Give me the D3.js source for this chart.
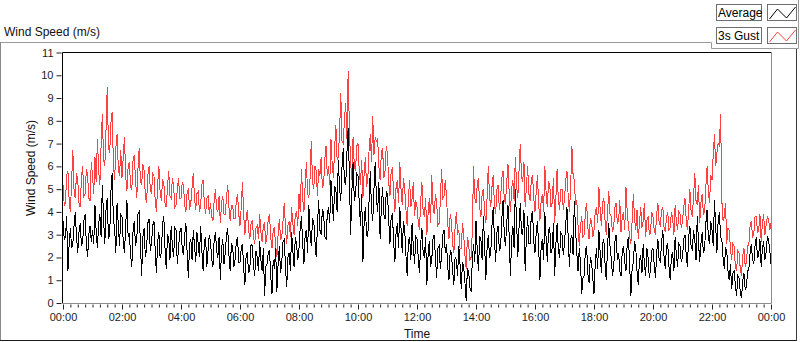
<!DOCTYPE html>
<html>
<head>
<meta charset="utf-8">
<script src="https://cdn.jsdelivr.net/npm/d3@7"></script>
<style>
body { margin: 0; background: #fff; }
svg { display: block; font-family: "Liberation Sans", Arial, sans-serif; }
.axis text { fill: #1c1c24; font-size: 11px; }
.axis line { stroke: #222; }
</style>
</head>
<body>
<div id="chart"></div>
<script>
var w = 800, h = 342;
var plot = { left: 63, right: 771, top: 52.5, bottom: 303 };

var yTicks = [0, 1, 2, 3, 4, 5, 6, 7, 8, 9, 10, 11];
var xTickHours = [0, 2, 4, 6, 8, 10, 12, 14, 16, 18, 20, 22, 24];
var xTickLabels = ["00:00", "02:00", "04:00", "06:00", "08:00", "10:00", "12:00",
                   "14:00", "16:00", "18:00", "20:00", "22:00", "00:00"];
var seriesNames = ["Average", "3s Gust"];
var seriesColors = ["#000000", "#ff4040"];
var sampleMinutes = 2.5;

// one row per hour, 2.5 minute samples (m/s)
var average = [
  3.6,2.8,2.9,3.8,1.4,2.6,3.3,2.4,2.6,3.4,4.0,2.9,2.2,3.1,3.5,2.5,2.7,3.6,3.9,2.6,2.0,3.0,3.4,2.7,
  3.2,2.6,4.3,3.1,2.4,3.5,3.9,2.9,5.2,3.7,2.6,4.1,4.6,2.8,3.0,4.9,5.7,3.6,3.3,2.2,4.4,3.4,2.5,3.9,
  3.8,2.7,2.2,3.4,4.5,2.9,3.0,2.1,1.6,3.2,3.6,2.5,2.8,3.9,4.0,2.6,1.2,2.9,3.3,2.0,2.4,3.5,3.7,2.3,
  2.6,3.4,3.6,2.3,1.3,2.7,3.1,2.0,2.2,3.5,3.8,2.4,1.5,3.0,2.9,1.9,3.4,2.5,2.0,3.3,3.2,1.7,2.4,3.1,
  3.3,2.4,2.1,3.0,3.5,2.2,1.1,2.6,2.8,1.9,3.2,2.5,1.8,3.1,2.6,2.0,3.4,2.3,1.4,2.7,2.9,1.6,2.3,3.0,
  2.7,1.9,1.6,2.8,3.1,2.3,2.0,2.9,1.0,2.4,2.8,1.7,2.2,3.0,3.3,2.1,1.4,2.6,2.5,1.6,1.9,2.7,2.9,1.8,
  1.8,2.4,2.6,1.5,0.8,2.1,2.2,1.3,1.5,2.6,2.5,1.6,1.2,2.3,2.0,1.4,2.7,1.9,1.4,2.4,0.3,1.6,1.7,2.2,
  2.3,1.2,0.4,1.9,1.5,2.4,0.5,1.7,2.5,1.3,1.8,2.7,2.8,1.6,0.7,2.0,2.2,1.4,3.1,2.3,1.6,2.9,2.6,1.9,
  2.4,3.3,3.8,2.6,1.7,3.0,3.2,2.2,4.3,3.1,2.5,3.7,3.6,2.7,2.0,3.4,4.5,3.2,3.0,4.1,4.0,2.9,2.8,3.9,
  4.2,3.5,5.4,4.6,3.6,5.1,5.0,4.0,6.3,5.0,4.5,6.0,6.8,5.3,5.2,6.6,7.7,5.6,3.0,4.9,6.2,4.5,4.8,5.7,
  5.6,4.4,3.4,4.8,1.8,3.6,4.2,3.0,2.9,4.5,5.8,4.1,3.6,5.0,6.2,4.6,4.0,5.3,2.8,4.2,5.1,3.9,3.7,4.9,
  4.8,3.6,2.6,3.8,3.9,2.7,1.8,3.1,3.5,2.4,4.2,3.3,2.2,3.6,3.2,2.1,1.2,2.7,2.9,1.9,3.5,2.5,1.7,2.9,
  2.8,2.0,1.3,2.6,3.3,2.2,2.0,2.9,0.8,2.1,2.7,1.6,1.9,2.8,3.0,2.0,1.1,2.4,2.5,1.5,2.1,3.0,3.2,2.2,
  2.6,1.6,1.0,2.3,2.2,1.4,0.8,2.0,1.9,1.2,2.5,1.7,0.6,1.8,1.6,0.9,0.1,1.5,1.4,0.7,0.5,1.9,2.6,1.8,
  3.6,2.3,1.4,2.9,2.8,1.9,3.8,2.6,1.0,2.4,3.0,2.0,2.2,3.4,4.2,2.8,1.8,3.1,3.4,2.3,2.4,3.7,4.5,3.0,
  2.5,3.5,4.3,2.9,1.2,2.8,3.4,2.4,5.0,3.6,2.0,3.3,4.4,3.1,3.0,4.1,1.4,2.9,3.8,2.6,2.6,3.9,4.0,2.7,
  2.2,3.1,3.6,2.4,1.0,2.5,2.8,1.9,4.0,2.9,1.8,3.2,3.3,2.2,2.4,3.5,1.2,2.6,3.5,2.3,2.0,3.1,3.0,2.1,
  2.6,3.5,4.2,2.9,1.6,2.8,3.0,2.1,4.5,3.2,2.2,1.4,2.4,1.8,0.4,1.1,1.2,2.3,2.5,1.3,0.9,2.0,1.8,1.1,
  0.4,1.7,2.4,1.5,3.2,2.2,1.3,2.6,2.8,1.7,1.0,2.4,3.5,2.5,2.0,1.2,1.5,2.7,3.0,1.9,2.2,1.4,1.2,2.3,
  2.5,1.8,1.4,2.6,2.9,1.7,0.3,1.5,1.8,2.7,2.4,1.4,0.8,1.9,2.1,1.3,2.6,1.7,1.2,2.4,2.0,1.1,1.5,2.3,
  2.4,1.7,1.1,2.2,2.8,1.9,1.8,2.7,3.2,2.0,1.5,2.5,2.6,1.6,1.0,2.1,2.2,1.4,2.9,2.1,1.6,2.6,2.5,1.8,
  2.0,2.8,3.0,2.1,1.6,2.9,3.4,2.5,2.3,3.2,2.8,1.9,3.8,2.7,1.8,2.6,3.1,2.2,2.4,3.5,4.1,2.9,2.6,3.6,
  3.2,2.5,4.5,3.4,2.2,3.6,4.0,2.9,2.8,2.0,1.5,2.4,2.3,1.4,1.0,1.7,0.6,1.3,1.4,0.8,0.3,1.2,1.1,0.5,
  0.2,1.0,1.3,0.6,0.7,1.4,1.5,2.2,2.6,1.9,1.7,2.5,2.9,2.0,2.1,2.8,1.6,2.4,2.7,1.9,2.2,2.9,2.8,2.3,
  1.7
];
var gust = [
  5.2,4.3,4.4,5.6,5.8,4.5,4.0,5.3,6.7,4.9,4.6,5.7,5.4,4.4,4.2,5.5,6.0,4.7,4.8,5.9,5.6,4.6,4.5,6.2,
  5.6,4.8,6.4,5.3,7.2,5.8,5.2,6.9,8.3,6.3,6.0,7.6,9.5,6.8,6.6,7.9,8.4,6.1,5.4,6.8,7.4,5.9,5.6,6.7,
  5.5,6.4,7.3,5.6,4.9,6.0,6.2,5.1,5.0,6.3,6.5,5.4,4.6,5.9,6.8,5.3,5.2,6.1,5.8,4.7,4.4,5.6,6.0,5.0,
  4.8,5.7,5.6,4.5,4.0,5.2,6.0,4.9,4.5,5.4,5.3,4.4,4.2,5.1,5.8,4.7,4.6,5.5,5.1,4.2,4.3,5.0,5.5,4.6,
  4.6,5.3,5.2,4.3,4.0,4.9,5.0,4.1,4.4,5.1,5.7,4.6,4.1,4.8,4.9,4.0,4.3,5.2,5.4,4.4,3.9,4.6,4.7,3.9,
  4.4,3.8,3.6,4.5,5.0,4.1,4.0,4.7,3.5,4.4,4.7,3.9,3.9,4.6,5.2,4.2,3.6,4.3,4.3,3.7,3.7,4.5,4.8,3.9,
  3.4,4.2,5.3,3.9,3.0,3.7,4.1,3.2,2.8,3.5,3.6,2.9,2.6,3.3,3.4,2.8,3.9,3.1,2.7,3.4,3.5,2.6,3.0,3.7,
  3.9,2.9,2.4,3.2,3.3,2.5,2.0,3.0,3.7,2.8,2.9,3.6,4.4,3.3,2.6,3.4,3.6,2.9,4.2,3.5,3.0,3.9,4.0,3.4,
  4.8,4.0,5.9,4.6,4.0,5.2,6.2,4.8,4.6,5.5,7.1,5.3,5.0,6.0,5.8,4.7,5.9,5.6,6.4,5.1,5.2,6.3,6.9,5.6,
  6.0,5.2,7.2,6.1,5.5,6.8,7.8,6.3,6.4,7.5,9.2,7.1,7.0,8.1,8.8,7.2,10.2,7.6,6.2,5.4,7.3,6.0,5.8,6.9,
  7.0,5.8,5.2,6.3,4.6,5.7,6.4,5.1,5.5,6.7,7.4,6.2,8.2,6.5,7.3,7.1,7.2,6.0,5.4,6.6,6.8,5.5,5.8,6.9,
  6.5,5.3,4.7,5.8,5.9,4.8,4.0,5.1,5.4,4.4,6.2,5.0,4.3,5.5,5.0,4.1,3.4,4.6,5.4,4.2,4.6,5.3,3.8,4.5,
  4.2,3.6,3.2,4.5,5.3,4.0,3.8,4.6,3.0,3.9,4.6,3.5,5.6,4.3,3.9,4.8,4.4,3.4,3.5,4.5,5.9,4.6,4.7,5.4,
  4.7,3.5,2.8,3.9,3.6,2.6,2.2,3.3,4.0,3.0,3.2,2.4,2.4,3.5,3.0,2.1,1.5,2.9,2.6,1.9,2.0,3.1,6.0,4.6,
  4.4,5.2,5.5,4.2,3.8,4.8,5.0,4.0,3.5,4.6,6.0,4.7,4.2,5.1,5.6,4.3,3.9,5.0,5.2,4.1,4.6,5.5,5.8,4.5,
  4.4,5.3,6.1,4.8,4.0,5.0,5.4,4.5,6.4,5.2,4.6,5.8,7.0,5.6,5.3,6.2,4.2,5.1,6.0,4.8,4.5,5.4,5.6,4.6,
  4.0,4.9,5.6,4.3,3.6,4.5,4.8,4.0,6.0,4.9,4.2,5.3,5.2,4.2,4.4,5.5,3.5,4.6,5.9,4.5,4.1,5.0,5.0,4.1,
  4.6,5.4,5.8,4.7,4.0,5.1,6.9,5.6,5.4,4.3,4.5,3.4,2.5,3.4,3.8,2.9,3.0,4.0,4.4,3.3,2.8,3.7,3.6,2.9,
  3.2,4.0,4.2,3.5,5.1,4.1,3.4,4.4,4.6,3.6,3.0,4.0,4.9,3.9,3.8,3.1,3.3,4.2,4.4,3.5,3.6,4.5,3.1,3.8,
  4.0,3.2,5.1,4.0,3.4,2.9,2.6,3.6,4.8,3.7,3.2,4.1,2.8,3.5,4.2,3.3,3.6,4.4,2.9,3.6,3.8,3.0,3.1,4.0,
  3.8,3.2,3.0,3.9,4.4,3.5,3.4,4.1,4.2,3.3,3.1,3.8,4.0,3.2,3.3,4.0,3.7,3.0,4.3,3.6,3.2,4.0,3.9,3.3,
  3.6,4.2,4.6,3.7,3.2,4.1,5.0,4.0,3.8,4.7,5.7,4.5,4.3,5.2,3.5,4.4,4.8,3.9,4.0,5.1,6.0,4.9,4.4,5.6,
  5.4,6.5,7.4,6.0,6.6,7.0,6.9,8.3,4.5,3.6,3.8,4.4,2.6,3.3,3.2,2.4,1.9,2.6,2.5,1.6,1.4,2.3,2.2,1.5,
  1.2,2.1,2.4,1.6,1.8,2.5,2.6,3.4,3.6,2.9,3.0,3.8,3.8,3.1,3.2,3.9,2.7,3.5,3.9,3.0,3.4,3.8,3.7,3.2,
  3.5
];

var svg = d3.select("#chart")
    .append("svg")
    .attr("width", w)
    .attr("height", h);

// outer frame of the chart control
var frame = svg.append("g").attr("fill", "none");
frame.append("path").attr("d", "M0,42.5H711.5V48.5H798.5V0").attr("stroke", "#9a9a9a");
frame.append("path").attr("d", "M0.5,42V340.5H796.5V49").attr("stroke", "#8a8a8a");
frame.append("path").attr("d", "M0,340.5H797").attr("stroke", "#1a1a1a");
frame.append("path").attr("d", "M796.5,49V341").attr("stroke", "#3a3a3a");

svg.append("text")
    .attr("x", 4)
    .attr("y", 35.5)
    .style("font-size", "12px")
    .attr("fill", "#111")
    .text("Wind Speed (m/s)");

var x = d3.scaleLinear().domain([0, 24]).range([plot.left, plot.right]);
var y = d3.scaleLinear().domain([0, 11]).range([plot.bottom, plot.top]);

// plot area borders (dark top/left, grey bottom/right)
svg.append("path").attr("fill", "none").attr("stroke", "#000")
    .attr("d", "M62.5,303V52.5H772");
svg.append("path").attr("fill", "none").attr("stroke", "#8c8c8c")
    .attr("d", "M771.5,52V303.5H62");

svg.append("clipPath").attr("id", "clip")
    .append("rect")
    .attr("x", 63).attr("y", 53)
    .attr("width", 708).attr("height", 250);

var line = d3.line()
    .x(function(d, i) { return x(i * sampleMinutes / 60); })
    .y(function(d) { return y(d); });

// aliased 1px traces, like the instrument display
var plots = svg.append("g").attr("clip-path", "url(#clip)");
[gust, average].forEach(function(s, k) {
    plots.append("path")
        .datum(s)
        .attr("fill", "none")
        .attr("stroke", k == 0 ? seriesColors[1] : seriesColors[0])
        .attr("stroke-width", 1)
        .attr("shape-rendering", "crispEdges")
        .attr("d", line);
});

// y axis
var yAxis = d3.axisLeft(y).tickValues(yTicks).tickSize(5).tickPadding(3);
svg.append("g")
    .attr("class", "axis")
    .attr("transform", "translate(61.5,0)")
    .call(yAxis)
    .call(function(g) { g.select(".domain").remove(); });

// x axis: minor every 15 min, major every 2 h
var minorTicks = d3.range(0, 24.01, 0.25).filter(function(t) { return t % 2 != 0; });
svg.append("g")
    .attr("class", "axis")
    .attr("transform", "translate(0,304.5)")
    .call(d3.axisBottom(x).tickValues(minorTicks).tickSize(3).tickFormat(""))
    .call(function(g) { g.select(".domain").remove(); });
svg.append("g")
    .attr("class", "axis")
    .attr("transform", "translate(0,304.5)")
    .call(d3.axisBottom(x).tickValues(xTickHours).tickSize(5).tickPadding(4)
          .tickFormat(function(d, i) { return xTickLabels[i]; }))
    .call(function(g) { g.select(".domain").remove(); });

svg.append("text")
    .attr("x", (plot.left + plot.right) / 2)
    .attr("y", 338)
    .attr("text-anchor", "middle")
    .style("font-size", "12px")
    .attr("fill", "#111")
    .text("Time");

svg.append("text")
    .attr("transform", "translate(35,168) rotate(-90)")
    .attr("text-anchor", "middle")
    .style("font-size", "12px")
    .attr("fill", "#111")
    .text("Wind Speed (m/s)");

// plot legend
var legend = svg.append("g");
var icon = [[2, 15], [10, 5], [19, 14], [28, 3]];
seriesNames.forEach(function(name, i) {
    var top = 4 + i * 23;
    legend.append("rect")
        .attr("x", 716.5).attr("y", top + 0.5)
        .attr("width", 45).attr("height", 16)
        .attr("fill", "#fff").attr("stroke", "#6e6e6e");
    legend.append("text")
        .attr("x", 718).attr("y", top + 13)
        .style("font-size", "12px")
        .attr("fill", "#000")
        .text(name);
    legend.append("rect")
        .attr("x", 767.5).attr("y", top + 0.5)
        .attr("width", 29).attr("height", 16)
        .attr("fill", "#fff").attr("stroke", "#6e6e6e");
    legend.append("path")
        .attr("fill", "none")
        .attr("stroke", seriesColors[i])
        .attr("d", d3.line()(icon.map(function(p) { return [767.5 + p[0], top + p[1]]; })));
});
</script>
</body>
</html>
